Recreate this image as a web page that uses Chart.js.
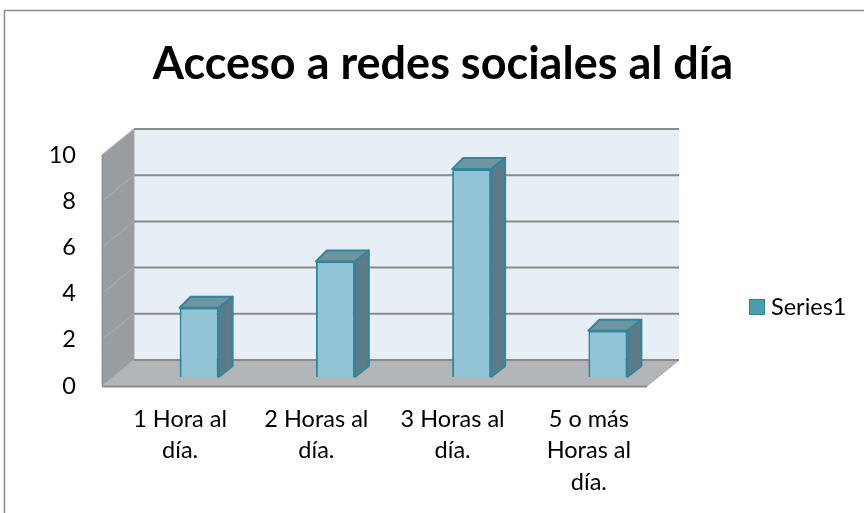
<!DOCTYPE html>
<html>
<head>
<meta charset="utf-8">
<script src="https://cdn.jsdelivr.net/npm/chart.js@4.4.1/dist/chart.umd.min.js"></script>
<style>
  html, body { margin: 0; padding: 0; background: #ffffff; }
  canvas { display: block; }
</style>
</head>
<body>
<canvas id="c" width="864" height="513"></canvas>
<script>
// ---- data ----
const chartTitle = "Acceso a redes sociales al día";
const categories = [
  ["1 Hora al", "día."],
  ["2 Horas al", "día."],
  ["3 Horas al", "día."],
  ["5 o más", "Horas al", "día."]
];
const seriesName = "Series1";
const seriesValues = [3, 5, 9, 2];
const yMin = 0, yMax = 10, yStep = 2;

// ---- style constants ----
const FONT = "Lato, 'Open Sans', 'DejaVu Sans', sans-serif";
const DEPTH = { dx: 32, dy: -26 };          // wall depth
const BAR_SHIFT = { dx: 19, dy: -9 };       // bar front plane vs front edge
const BAR_DEPTH = { dxL: 11, dxR: 14, dy: -11 };
const FRONT_SHIFT = -10;                    // floor front edge vs category area

const wallPlugin = {
  id: 'walls',
  beforeDraw(chart) {
    const ctx = chart.ctx;
    const ys = chart.scales.y;
    const a = chart.chartArea;
    ctx.save();
    ctx.fillStyle = '#ffffff';
    ctx.fillRect(0, 0, chart.width, chart.height);
    // outer chart border
    ctx.strokeStyle = '#8c8c8c';
    ctx.lineWidth = 1.5;
    ctx.strokeRect(4.5, 10.5, 2000, 2000);

    const fx0 = a.left + FRONT_SHIFT, fx1 = a.right + FRONT_SHIFT;
    const y0 = ys.getPixelForValue(yMin), yT = ys.getPixelForValue(yMax);
    const bx0 = fx0 + DEPTH.dx, bx1 = fx1 + DEPTH.dx;
    const by0 = y0 + DEPTH.dy, byT = yT + DEPTH.dy;

    // back wall
    ctx.fillStyle = '#e8eef5';
    ctx.fillRect(bx0, byT, bx1 - bx0, by0 - byT);
    // side wall
    ctx.beginPath();
    ctx.moveTo(fx0, yT); ctx.lineTo(bx0, byT); ctx.lineTo(bx0, by0); ctx.lineTo(fx0, y0);
    ctx.closePath();
    ctx.fillStyle = '#999ca0';
    ctx.fill();
    ctx.strokeStyle = '#a3a6a9';
    ctx.lineWidth = 1;
    ctx.stroke();
    // floor
    ctx.beginPath();
    ctx.moveTo(fx0, y0); ctx.lineTo(bx0, by0); ctx.lineTo(bx1, by0); ctx.lineTo(fx1, y0);
    ctx.closePath();
    ctx.fillStyle = '#b3b6b9';
    ctx.fill();
    // floor front edge
    ctx.beginPath();
    ctx.moveTo(fx0, y0 + 0.5); ctx.lineTo(fx1, y0 + 0.5);
    ctx.strokeStyle = '#8c8c8c';
    ctx.lineWidth = 2;
    ctx.stroke();
    // floor right edge
    ctx.beginPath();
    ctx.moveTo(fx1, y0); ctx.lineTo(bx1, by0);
    ctx.strokeStyle = '#a0a3a6';
    ctx.lineWidth = 1;
    ctx.stroke();

    // gridlines on back wall and side wall
    ys.ticks.forEach(t => {
      const yf = ys.getPixelForValue(t.value);
      const yb = yf + DEPTH.dy;
      ctx.beginPath();
      ctx.moveTo(bx0, yb); ctx.lineTo(bx1, yb);
      ctx.strokeStyle = '#8a8a8a';
      ctx.lineWidth = 2;
      ctx.stroke();
      ctx.beginPath();
      ctx.moveTo(fx0, yf); ctx.lineTo(bx0, yb);
      ctx.strokeStyle = '#aeb0b3';
      ctx.lineWidth = 1;
      ctx.stroke();
    });
    // side wall left edge
    ctx.beginPath();
    ctx.moveTo(fx0 + 0.5, yT); ctx.lineTo(fx0 + 0.5, y0);
    ctx.strokeStyle = '#8c8c8c';
    ctx.lineWidth = 1;
    ctx.stroke();
    ctx.restore();
  },
  beforeDatasetsDraw(chart) {
    chart.ctx.save();
    chart.ctx.translate(BAR_SHIFT.dx, BAR_SHIFT.dy);
  },
  afterDatasetsDraw(chart) {
    const ctx = chart.ctx;
    const meta = chart.getDatasetMeta(0);
    meta.data.forEach(el => {
      const p = el.getProps(['x', 'y', 'base', 'width'], true);
      const l = p.x - p.width / 2, r = p.x + p.width / 2;
      const top = p.y, bot = p.base;
      // top face
      ctx.beginPath();
      ctx.moveTo(l, top);
      ctx.lineTo(l + BAR_DEPTH.dxL, top + BAR_DEPTH.dy);
      ctx.lineTo(r + BAR_DEPTH.dxR, top + BAR_DEPTH.dy);
      ctx.lineTo(r, top);
      ctx.closePath();
      ctx.fillStyle = '#6f95a1';
      ctx.fill();
      ctx.strokeStyle = '#31859c';
      ctx.lineWidth = 2;
      ctx.lineJoin = 'round';
      ctx.stroke();
      // side face
      ctx.beginPath();
      ctx.moveTo(r, top);
      ctx.lineTo(r + BAR_DEPTH.dxR, top + BAR_DEPTH.dy);
      ctx.lineTo(r + BAR_DEPTH.dxR, bot + BAR_DEPTH.dy);
      ctx.lineTo(r, bot);
      ctx.closePath();
      ctx.fillStyle = '#5b7c86';
      ctx.fill();
      ctx.stroke();
    });
    ctx.restore();
  },
  afterDraw(chart) {
    const ctx = chart.ctx;
    const ds = chart.data.datasets[0];
    ctx.save();
    ctx.fillStyle = '#4a9db3';
    ctx.fillRect(749, 299, 16, 16);
    ctx.strokeStyle = '#357f93';
    ctx.lineWidth = 1;
    ctx.strokeRect(749.5, 299.5, 15, 15);
    ctx.fillStyle = '#000000';
    ctx.font = "23.5px " + FONT;
    ctx.textBaseline = 'middle';
    ctx.textAlign = 'left';
    ctx.fillText(ds.label, 771, 307);
    ctx.restore();
  }
};

new Chart(document.getElementById('c'), {
  type: 'bar',
  data: {
    labels: categories,
    datasets: [{
      label: seriesName,
      data: seriesValues,
      backgroundColor: '#93c4d6',
      borderColor: '#31859c',
      borderWidth: 2,
      barPercentage: 0.286,
      categoryPercentage: 1.0,
      clip: false
    }]
  },
  options: {
    responsive: false,
    animation: false,
    layout: { padding: { left: 22, right: 0, top: 0, bottom: 0 } },
    plugins: {
      legend: { display: false },
      tooltip: { enabled: false },
      title: {
        display: true,
        text: chartTitle,
        color: '#000000',
        font: { family: FONT, size: 45, weight: 'bold', lineHeight: 1.2 },
        padding: { top: 37, bottom: 64 }
      }
    },
    scales: {
      x: {
        grid: { display: false, drawTicks: false },
        border: { display: false },
        ticks: {
          color: '#000000',
          font: { family: FONT, size: 23.5, lineHeight: 1.33 },
          padding: 18,
          maxRotation: 0,
          autoSkip: false
        },
        afterFit(s) { s.height = 127; }
      },
      y: {
        min: yMin,
        max: yMax,
        grid: { display: false, drawTicks: false },
        border: { display: false },
        ticks: {
          stepSize: yStep,
          color: '#000000',
          font: { family: FONT, size: 23.5 },
          padding: 36
        },
        afterFit(s) { s.width = 90; }
      },
      legendSpace: {
        type: 'linear',
        position: 'right',
        display: true,
        grid: { display: false, drawTicks: false },
        border: { display: false },
        ticks: { display: false },
        afterFit(s) { s.width = 207; }
      }
    }
  },
  plugins: [wallPlugin]
});
</script>
</body>
</html>
